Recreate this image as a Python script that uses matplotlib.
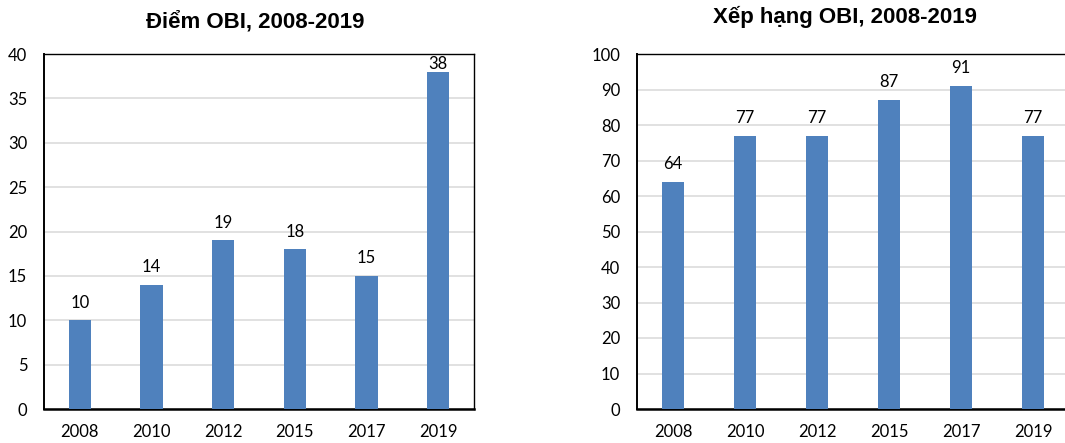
import matplotlib.pyplot as plt

years = ['2008', '2010', '2012', '2015', '2017', '2019']
scores = [10, 14, 19, 18, 15, 38]
ranks = [64, 77, 77, 87, 91, 77]

plt.rcParams['font.family'] = ['Lato', 'DejaVu Sans']

fig = plt.figure(figsize=(10.65, 4.43), dpi=100)

bar_color = '#4F81BD'


def draw_panel(ax, values, ymax, step, title, title_x, title_y):
    x = range(len(years))
    bars = ax.bar(x, values, width=0.31, color=bar_color, zorder=3)
    ax.set_xlim(-0.5, len(years) - 0.5)
    ax.set_ylim(0, ymax)
    ax.set_yticks(range(0, ymax + 1, step))
    ax.set_xticks(list(x))
    ax.set_xticklabels(years)
    ax.tick_params(length=0, labelsize=12, colors='black')
    ax.tick_params(axis='x', pad=11)
    ax.tick_params(axis='y', pad=12)
    ax.grid(axis='y', color='#d9d9d9', linewidth=1.1, zorder=0)
    for s in ax.spines.values():
        s.set_linewidth(1.0)
        s.set_color('black')
    ax.spines['bottom'].set_linewidth(1.8)
    ax.spines['left'].set_linewidth(1.4)
    for b, v in zip(bars, values):
        off = 0 if v / ymax > 0.93 else 7
        ax.annotate(str(v), (b.get_x() + b.get_width() / 2, v),
                    xytext=(0, off), textcoords='offset points',
                    ha='center', va='bottom', fontsize=12, zorder=4)
    fig.text(title_x, title_y, title, ha='center', va='center',
             fontsize=16, fontweight='bold', family='Liberation Sans')


ax1 = fig.add_axes([44 / 1065, 34 / 443, 430 / 1065, 355 / 443])
draw_panel(ax1, scores, 40, 5, 'Điểm OBI, 2008-2019', 255 / 1065, 1 - 22 / 443)

ax2 = fig.add_axes([637 / 1065, 34 / 443, 432 / 1065, 355 / 443])
draw_panel(ax2, ranks, 100, 10, 'Xếp hạng OBI, 2008-2019', 845 / 1065, 1 - 17 / 443)

fig.savefig('out.png', dpi=100)
